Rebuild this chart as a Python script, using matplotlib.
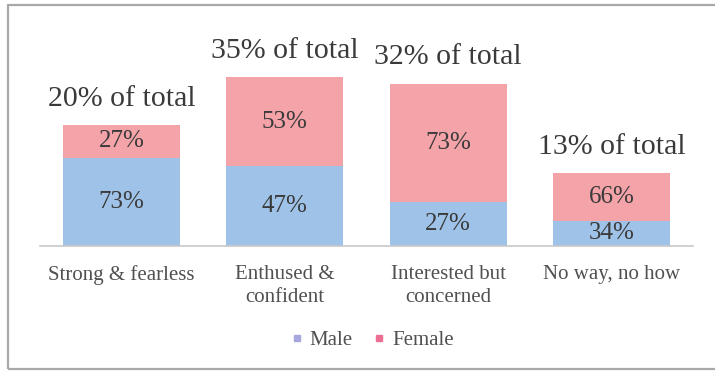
import matplotlib
matplotlib.use("Agg")
import matplotlib.pyplot as plt
from matplotlib.patches import Rectangle
from matplotlib.lines import Line2D

plt.rcParams['font.family'] = ['Liberation Serif', 'DejaVu Serif']

categories = ["Strong & fearless", "Enthused &\nconfident", "Interested but\nconcerned", "No way, no how"]
bar_heights = [24.1, 33.7, 32.4, 14.5]      # drawn bar heights
male_share = [73, 47, 27, 34]
female_share = [27, 53, 73, 66]
total_labels = ["20% of total", "35% of total", "32% of total", "13% of total"]

male_color = "#9fc3e8"
female_color = "#f4a3a9"
text_color = "#3a3a3a"

fig = plt.figure(figsize=(7.15, 3.72), dpi=100)
ax = fig.add_axes([40/715, (372-245.5)/372, 653/715, 225.5/372])

x = list(range(len(categories)))
male_vals = [h * m / 100 for h, m in zip(bar_heights, male_share)]
female_vals = [h * f / 100 for h, f in zip(bar_heights, female_share)]
w = 0.717
bm = ax.bar(x, male_vals, width=w, color=male_color, label="Male")
bf = ax.bar(x, female_vals, width=w, bottom=male_vals, color=female_color, label="Female")

for i in x:
    ax.text(i, male_vals[i] / 2, f"{male_share[i]}%", ha='center', va='center',
            fontsize=18, color=text_color)
    ax.text(i, male_vals[i] + female_vals[i] / 2, f"{female_share[i]}%", ha='center', va='center',
            fontsize=18, color=text_color)
    ax.annotate(total_labels[i], (i, bar_heights[i]), xytext=(0, 19), textcoords='offset points',
                ha='center', va='center', fontsize=21.5, color=text_color, annotation_clip=False)

ax.set_xlim(-0.5, 3.5)
ax.set_ylim(0, 45.1)
ax.set_xticks(x)
ax.set_xticklabels(categories, fontsize=15, color="#505050", linespacing=1.3)
ax.tick_params(axis='x', length=0, pad=14)
ax.set_yticks([])
for s in ['top', 'right', 'left']:
    ax.spines[s].set_visible(False)
ax.spines['bottom'].set_color("#c8c8c8")
ax.spines['bottom'].set_linewidth(1.2)

handles = [Line2D([0], [0], marker='s', linestyle='none', markersize=5, color="#a7a7e0"),
           Line2D([0], [0], marker='s', linestyle='none', markersize=5, color="#ec6f93")]
fig.legend(handles, ["Male", "Female"], loc='center', bbox_to_anchor=(372/715, (372-340)/372),
           ncol=2, frameon=False, fontsize=15, handlelength=0.6, handletextpad=0.3,
           columnspacing=1.0, labelcolor="#505050")

fig.patches.append(Rectangle((8/715, 3/372), 1.0, 364/372, transform=fig.transFigure,
                             fill=False, edgecolor="#a8a8a8", linewidth=1.6))

fig.savefig("out.png", dpi=100, facecolor="white")
